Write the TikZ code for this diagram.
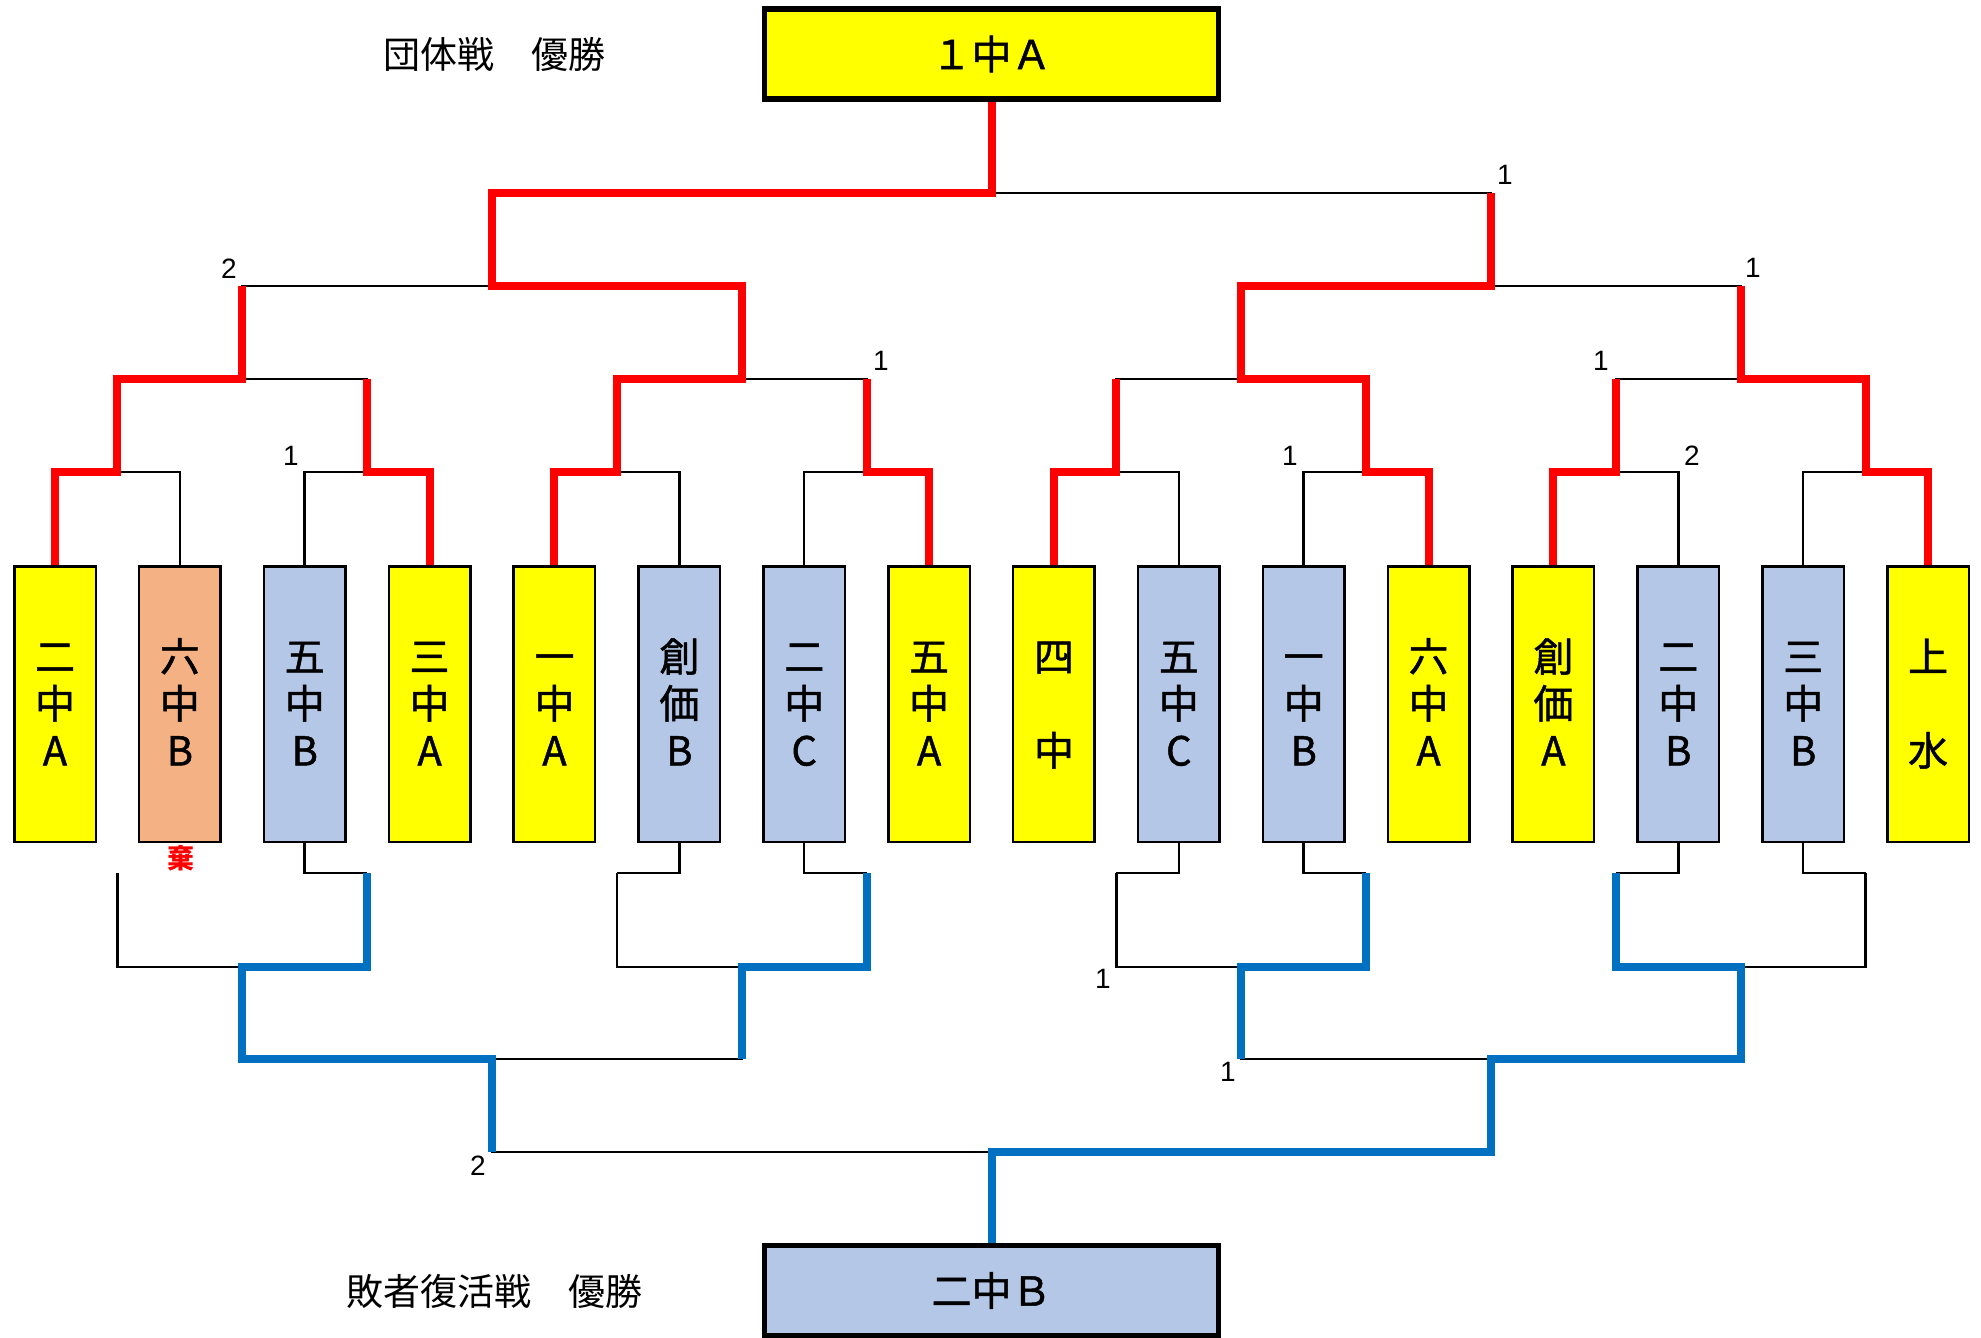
\documentclass[tikz,border=0pt]{standalone}
\usepackage{fontspec}
\setmainfont{Noto Sans CJK JP}
\newfontfamily\futoi{Noto Sans CJK JP}[FakeBold=1.2]
\newfontfamily\suji{Liberation Sans}
\definecolor{kiiro}{HTML}{FFFF00}
\definecolor{usuao}{HTML}{B4C7E7}
\definecolor{daidai}{HTML}{F4B183}
\definecolor{aka}{HTML}{FF0000}
\definecolor{ao}{HTML}{0070C0}

\begin{document}
\begin{tikzpicture}[x=1pt, y=-1pt,
  team/.style={draw, line width=2.5pt, minimum width=81.5pt, minimum height=275.5pt, inner sep=0pt, align=center, font=\futoi\fontsize{40}{47}\selectfont},
  winbox/.style={draw, line width=5.5pt, minimum width=454pt, minimum height=90pt, inner sep=0pt, font=\futoi\fontsize{40}{48}\selectfont},
  midashi/.style={font=\fontsize{37}{40}\selectfont, inner sep=0pt},
  sen/.style={line width=2.5pt},
  akasen/.style={line width=8pt, draw=aka},
  aosen/.style={line width=8pt, draw=ao},
  num/.style={font=\suji\fontsize{28}{30}\selectfont, inner sep=0pt}]
  \useasboundingbox (0,0) rectangle (1981,1338);

  % 団体戦 優勝
  \node[midashi] (dantai) at (494,54) {団体戦　優勝};
  \node[winbox, fill=kiiro] (yusho) at (991.5,54) {１中Ａ};

  % 敗者復活戦 優勝
  \node[midashi] (haisha) at (494,1291) {敗者復活戦　優勝};
  \node[winbox, fill=usuao] (fukkatsu) at (991.5,1290.5) {二中Ｂ};

  % 出場チーム (16チーム)
  \foreach \i/\iro/\mei in {1/kiiro/{二\\中\\A}, 2/daidai/{六\\中\\B}, 3/usuao/{五\\中\\B}, 4/kiiro/{三\\中\\A},
      5/kiiro/{一\\中\\A}, 6/usuao/{創\\価\\B}, 7/usuao/{二\\中\\C}, 8/kiiro/{五\\中\\A},
      9/kiiro/{四\\　\\中}, 10/usuao/{五\\中\\C}, 11/usuao/{一\\中\\B}, 12/kiiro/{六\\中\\A},
      13/kiiro/{創\\価\\A}, 14/usuao/{二\\中\\B}, 15/usuao/{三\\中\\B}, 16/kiiro/{上\\　\\水}}
    \node[team, fill=\iro] (t\i) at ({55+(\i-1)*124.87},704) {\rule{0pt}{40pt}\mei\rule[-11pt]{0pt}{11pt}};

  % 棄権
  \node[font=\bfseries\fontsize{27}{29}\selectfont, text=aka, inner sep=0pt] (kiken) at (181,858) {棄};

  % 組み合わせの分岐点
  \foreach \k in {1,...,8} {
    \coordinate (q\k) at ({117.4+(\k-1)*249.74},472);
    \coordinate (d\k) at ({117.4+(\k-1)*249.74},873);
  }
  \foreach \j in {1,...,4} {
    \coordinate (s\j) at ({242.3+(\j-1)*499.48},379);
    \coordinate (e\j) at ({242.3+(\j-1)*499.48},967);
  }
  \foreach \l in {1,2} {
    \coordinate (h\l) at ({492+(\l-1)*998.96},286);
    \coordinate (g\l) at ({492+(\l-1)*998.96},1059);
  }
  \coordinate (f) at (991.5,193);
  \coordinate (z) at (991.5,1152);

  % トーナメント線 (黒)
  \foreach \k [evaluate=\k as \a using int(2*\k-1), evaluate=\k as \b using int(2*\k)] in {1,...,8}
    \draw[sen] (t\a.north) |- (q\k) -| (t\b.north);
  \foreach \j [evaluate=\j as \a using int(2*\j-1), evaluate=\j as \b using int(2*\j)] in {1,...,4} {
    \draw[sen] (q\a) |- (s\j) -| (q\b);
    \draw[sen] (d\a) |- (e\j) -| (d\b);
  }
  \draw[sen] (s1) |- (h1) -| (s2);
  \draw[sen] (s3) |- (h2) -| (s4);
  \draw[sen] (h1) |- (f) -| (h2);
  \draw[sen] (f) -- (yusho.south);

  % 敗者復活戦の線 (黒)
  \foreach \i/\k in {3/2,6/3,7/4,10/5,11/6,14/7,15/8}
    \draw[sen] (t\i.south) |- (d\k);
  \draw[sen] (e1) |- (g1) -| (e2);
  \draw[sen] (e3) |- (g2) -| (e4);
  \draw[sen] (g1) |- (z) -| (g2);
  \draw[sen] (z) -- (fukkatsu.north);

  % 勝ち上がり (赤)
  \draw[akasen] (t1.north) |- (q1) |- (s1) -- (s1 |- h1);
  \draw[akasen] (t4.north) |- (q2) -- (q2 |- s1);
  \draw[akasen] (t5.north) |- (q3) |- (s2) |- (h1) |- (f) -- (yusho.south);
  \draw[akasen] (t8.north) |- (q4) -- (q4 |- s2);
  \draw[akasen] (t9.north) |- (q5) -- (q5 |- s3);
  \draw[akasen] (t12.north) |- (q6) |- (s3) |- (h2) -- (h2 |- f);
  \draw[akasen] (t13.north) |- (q7) -- (q7 |- s4);
  \draw[akasen] (t16.north) |- (q8) |- (s4) -- (s4 |- h2);

  % 敗者復活戦の勝ち上がり (青)
  \draw[aosen] (d2) |- (e1) |- (g1) -- (g1 |- z);
  \draw[aosen] (d4) |- (e2) -- (e2 |- g1);
  \draw[aosen] (d6) |- (e3) -- (e3 |- g2);
  \draw[aosen] (d7) |- (e4) |- (g2) |- (z) -- (fukkatsu.north);

  % 得点
  \node[num] (n1) at (1505,175) {1};
  \node[num] (n2) at (229,269) {2};
  \node[num] (n3) at (1753,268) {1};
  \node[num] (n4) at (881,361) {1};
  \node[num] (n5) at (1601,361) {1};
  \node[num] (n6) at (291,456) {1};
  \node[num] (n7) at (1290,456) {1};
  \node[num] (n8) at (1692,456) {2};
  \node[num] (n9) at (1103,979) {1};
  \node[num] (n10) at (1228,1072) {1};
  \node[num] (n11) at (478,1166) {2};
\end{tikzpicture}
\end{document}
